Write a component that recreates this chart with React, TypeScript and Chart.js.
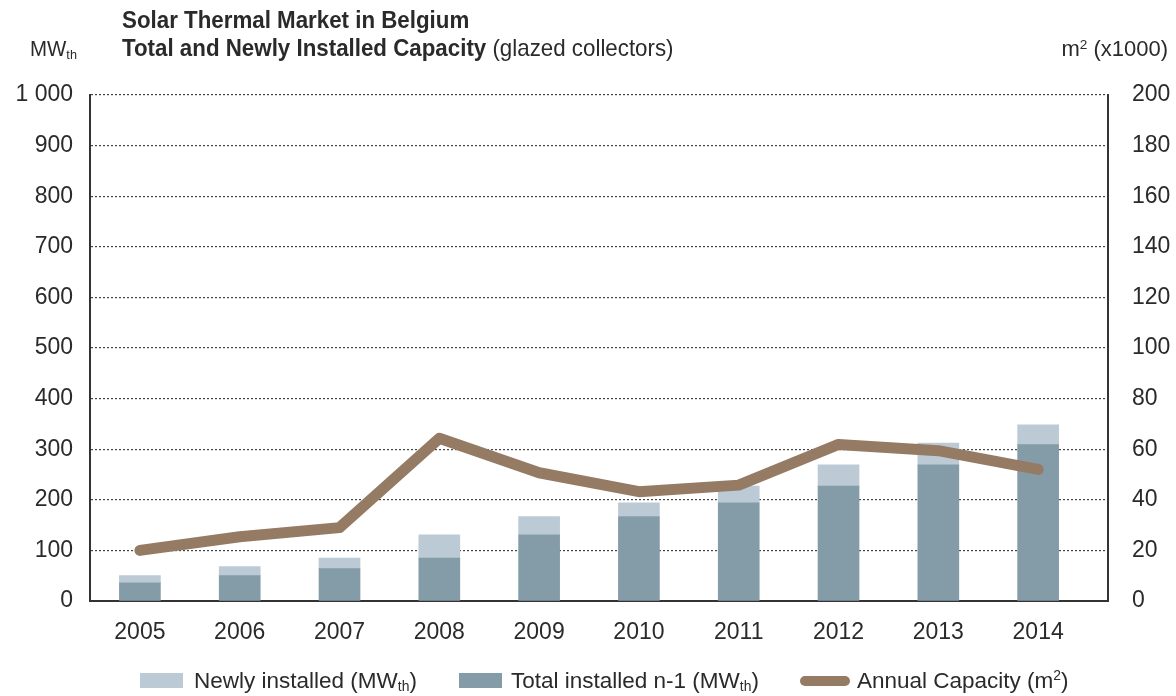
import { useEffect, useRef } from 'react';
import { Chart, registerables } from 'chart.js';

Chart.register(...registerables);

const years = [2005, 2006, 2007, 2008, 2009, 2010, 2011, 2012, 2013, 2014];
const totalInstalledPrev = [36, 50, 64, 85, 131, 167, 194, 227, 269, 309];
const newlyInstalled = [14, 18, 21, 46, 36, 27, 33, 42, 43, 39];
const annualCapacity = [20, 25.4, 29, 64.3, 50.7, 43.2, 45.8, 61.9, 59.4, 52];
const leftTicks = [0, 100, 200, 300, 400, 500, 600, 700, 800, 900, 1000];
const rightTicks = [0, 20, 40, 60, 80, 100, 120, 140, 160, 180, 200];

const LIGHT = '#bccad5';
const DARK = '#849ba8';
const LINE = '#957a64';
const TEXT = '#2a2a2a';
const FONT = "'Liberation Sans', Arial, sans-serif";

const fmt = (v: number) => String(v).replace(/\B(?=(\d{3})+(?!\d))/g, ' ');

export default function App() {
  const ref = useRef<HTMLCanvasElement>(null);

  useEffect(() => {
    if (!ref.current) return;
    Chart.defaults.font.family = FONT;
    const chart = new Chart(ref.current, {
      type: 'bar',
      data: {
        datasets: [
          {
            type: 'line',
            label: 'Annual Capacity (m²)',
            data: years.map((x, i) => ({ x, y: annualCapacity[i] })),
            yAxisID: 'y1',
            borderColor: LINE,
            backgroundColor: LINE,
            borderWidth: 11,
            pointRadius: 0,
            borderCapStyle: 'round',
            borderJoinStyle: 'round',
            tension: 0,
            order: 0,
          } as any,
          {
            label: 'Total installed n-1 (MWth)',
            data: years.map((x, i) => ({ x, y: totalInstalledPrev[i] })),
            backgroundColor: DARK,
            stack: 's',
            yAxisID: 'y',
            order: 1,
            barThickness: 41,
          },
          {
            label: 'Newly installed (MWth)',
            data: years.map((x, i) => ({ x, y: newlyInstalled[i] })),
            backgroundColor: LIGHT,
            stack: 's',
            yAxisID: 'y',
            order: 1,
            barThickness: 41,
          },
        ],
      },
      options: {
        animation: false,
        responsive: false,
        layout: { padding: { top: 95, left: 0, right: 0, bottom: 0 } },
        plugins: {
          legend: { display: false },
          tooltip: { enabled: false },
          title: { display: false },
        },
        scales: {
          x: {
            type: 'linear',
            min: 2004.5,
            max: 2014.7,
            offset: false,
            stacked: true,
            grid: { display: false },
            border: { display: true, color: '#333', width: 2 },
            ticks: {
              padding: 10,
              color: TEXT,
              font: { size: 23 },
              callback: (v: any) => String(v),
            },
            afterBuildTicks: (s: any) => {
              s.ticks = years.map((v) => ({ value: v }));
            },
            afterFit: (s: any) => {
              s.height = 95;
            },
          },
          y: {
            position: 'left',
            min: 0,
            max: 1000,
            stacked: true,
            grid: { color: '#444', lineWidth: 1.2, drawTicks: false },
            border: { display: true, color: '#333', width: 2, dash: [2, 2] },
            ticks: {
              padding: 17,
              color: TEXT,
              font: { size: 23 },
              callback: (v: any) => fmt(v),
            },
            afterBuildTicks: (s: any) => {
              s.ticks = leftTicks.map((v) => ({ value: v }));
            },
            afterFit: (s: any) => {
              s.width = 90;
            },
          },
          y1: {
            position: 'right',
            min: 0,
            max: 200,
            grid: { display: false },
            border: { display: true, color: '#333', width: 2 },
            ticks: {
              padding: 16,
              color: TEXT,
              font: { size: 23 },
              callback: (v: any) => String(v),
            },
            afterBuildTicks: (s: any) => {
              s.ticks = rightTicks.map((v) => ({ value: v }));
            },
            afterFit: (s: any) => {
              s.width = 68;
            },
          },
        },
      } as any,
    });
    return () => chart.destroy();
  }, []);

  const textBase: React.CSSProperties = {
    position: 'absolute',
    fontFamily: FONT,
    color: TEXT,
    whiteSpace: 'nowrap',
  };
  const condensed: React.CSSProperties = { transform: 'scaleX(0.93)', transformOrigin: 'left center' };
  const sub: React.CSSProperties = { fontSize: '0.62em', verticalAlign: '-0.25em', lineHeight: 0 };
  const sup: React.CSSProperties = { fontSize: '0.62em', verticalAlign: '0.55em', lineHeight: 0 };

  return (
    <div style={{ position: 'fixed', left: 0, top: 0, width: 1176, height: 696, background: '#fff' }}>
      <canvas ref={ref} width={1176} height={696} style={{ position: 'absolute', left: 0, top: 0 }} />
      <div style={{ ...textBase, ...condensed, left: 122, top: 6, height: 28, lineHeight: '28px', fontSize: 24, fontWeight: 'bold' }}>
        Solar Thermal Market in Belgium
      </div>
      <div style={{ ...textBase, ...condensed, left: 122, top: 34, height: 28, lineHeight: '28px', fontSize: 24 }}>
        <b>Total and Newly Installed Capacity</b> (glazed collectors)
      </div>
      <div style={{ ...textBase, ...condensed, left: 30, top: 35, height: 28, lineHeight: '28px', fontSize: 22 }}>
        MW<span style={sub}>th</span>
      </div>
      <div style={{ ...textBase, right: 8, top: 35, height: 28, lineHeight: '28px', fontSize: 22 }}>
        m<span style={sup}>2</span> (x1000)
      </div>

      <div style={{ position: 'absolute', left: 140, top: 673, width: 43, height: 15, background: LIGHT }} />
      <div style={{ ...textBase, left: 194, top: 667, height: 28, lineHeight: '28px', fontSize: 22.5 }}>
        Newly installed (MW<span style={sub}>th</span>)
      </div>
      <div style={{ position: 'absolute', left: 459, top: 673, width: 43, height: 15, background: DARK }} />
      <div style={{ ...textBase, left: 511, top: 667, height: 28, lineHeight: '28px', fontSize: 22.5 }}>
        Total installed n-1 (MW<span style={sub}>th</span>)
      </div>
      <div style={{ position: 'absolute', left: 800, top: 676, width: 50, height: 10, borderRadius: 5, background: LINE }} />
      <div style={{ ...textBase, left: 857, top: 667, height: 28, lineHeight: '28px', fontSize: 22.5 }}>
        Annual Capacity (m<span style={sup}>2</span>)
      </div>
    </div>
  );
}
